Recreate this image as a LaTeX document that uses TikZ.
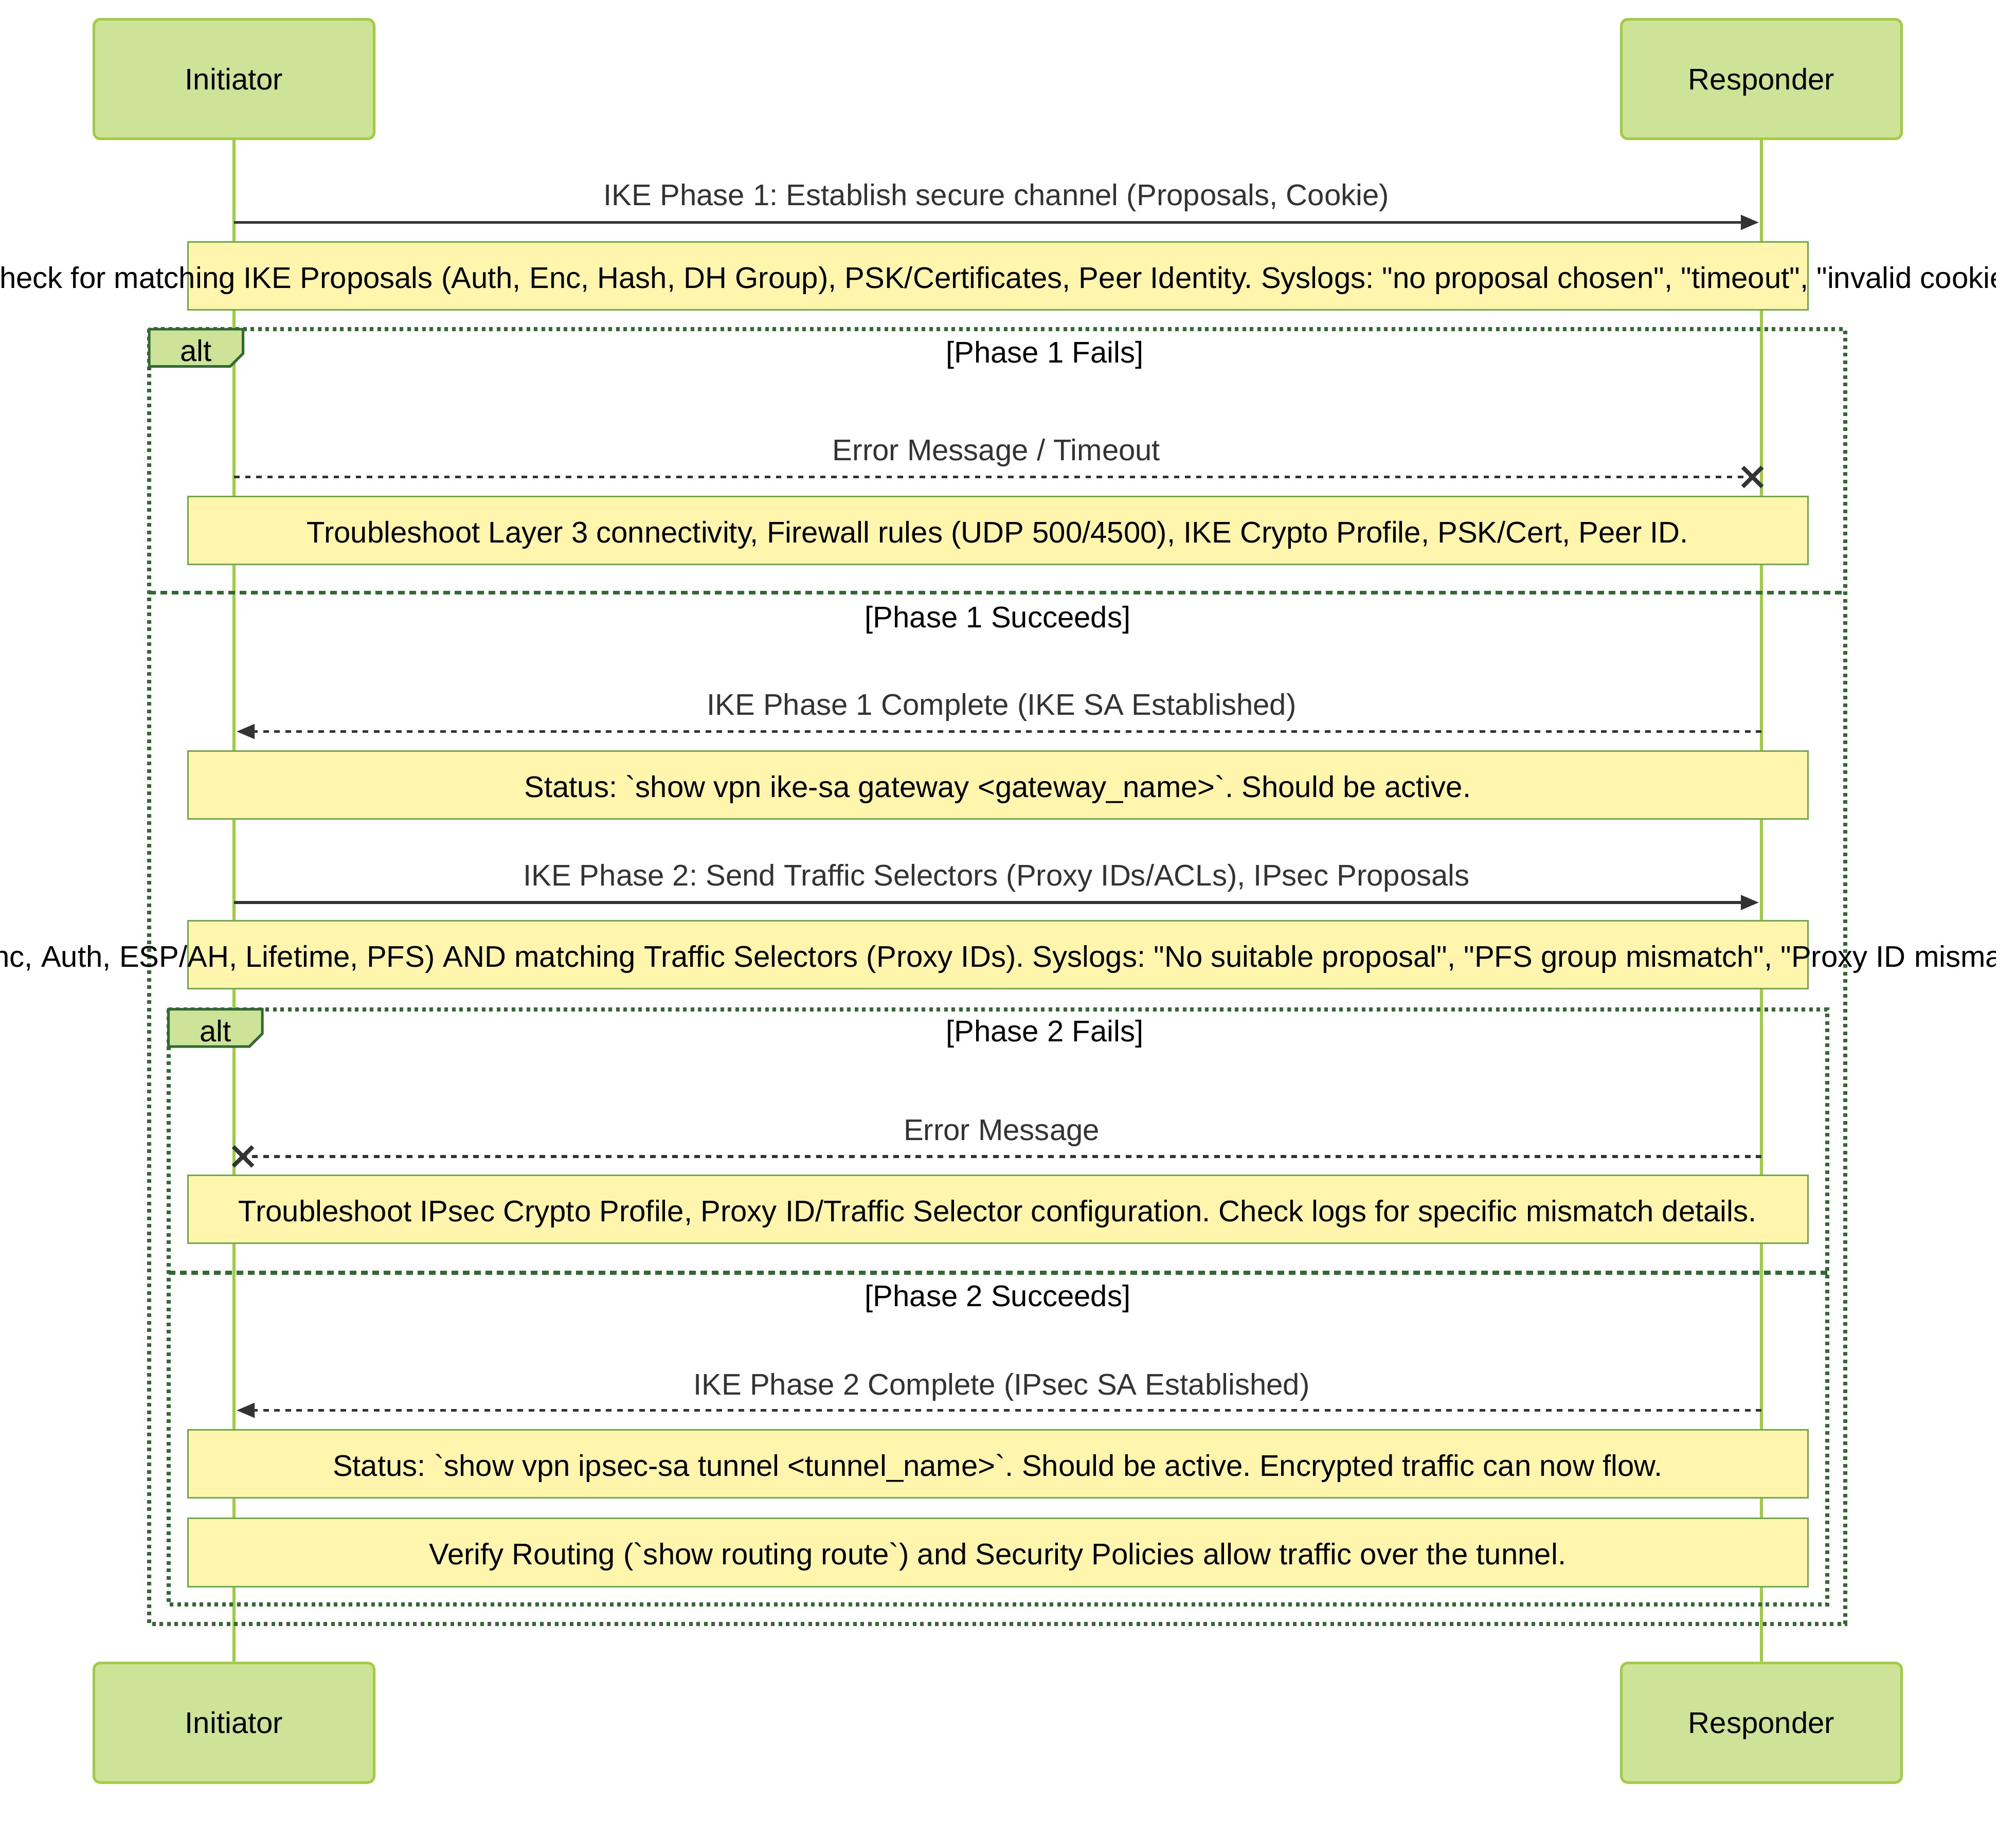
\documentclass[tikz,border=0pt]{standalone}
\usepackage{fontspec}
\setmainfont{Liberation Sans}[Ligatures=TeXOff]
\usetikzlibrary{arrows.meta,shapes.misc}
\definecolor{actorfill}{HTML}{CDE498}
\definecolor{actorline}{HTML}{A0CC44}
\definecolor{notefill}{HTML}{FFF5AD}
\definecolor{noteline}{HTML}{6EAA49}
\definecolor{framegreen}{HTML}{326932}
\definecolor{msggray}{HTML}{333333}
\newcommand{\seqfont}{\fontsize{11.62pt}{14pt}\selectfont\frenchspacing}
\tikzset{
	actor/.style={
		draw=actorline, fill=actorfill, line width=1pt,
		rounded corners=2.5pt, minimum width=109pt,
		minimum height=46.5pt, font=\seqfont, text=black,
		text height=8.3pt, text depth=0pt
	},
	notebox/.style={
		draw=noteline, fill=notefill, line width=0.6pt,
		minimum width=630pt, minimum height=26.5pt, inner sep=0pt
	},
}

\begin{document}
\begin{tikzpicture}[x=0.5pt, y=-0.5pt,
			lifeline/.style={actorline, line width=1.2pt},
			call/.style={msggray, line width=1.1pt, shorten >=1pt,
				-{Triangle[length=7pt,width=5.6pt]}},
			reply/.style={call, dash pattern=on 2.15pt off 2.15pt},
			lost/.style={msggray, line width=1.1pt, dash pattern=on 2.15pt off 2.15pt},
			crossmark/.style={cross out, draw=msggray, line width=1.6pt,
				minimum size=6pt, inner sep=0pt},
			msglabel/.style={text=msggray, font=\seqfont, anchor=base, inner sep=0pt},
			notetext/.style={text=black, font=\seqfont, anchor=base, inner sep=0pt, yshift=-4.75pt},
			condlabel/.style={text=black, font=\seqfont, anchor=base, inner sep=0pt},
			frame/.style={framegreen, line width=1.6pt, dash pattern=on 1.4pt off 1.5pt},
			divider/.style={framegreen, line width=1.5pt, dash pattern=on 2.6pt off 1.8pt},
			altbox/.style={draw=framegreen, fill=actorfill, line width=1pt}]
		\useasboundingbox (0,0) rectangle (1568,1418);
		\node[actor] (iniTop) at (182,61.5) {Initiator};
		\node[actor] (resTop) at (1370,61.5) {Responder};
		\node[actor] (iniBot) at (182,1340) {Initiator};
		\node[actor] (resBot) at (1370,1340) {Responder};
		\draw[lifeline] (iniTop) -- (iniBot);
		\draw[lifeline] (resTop) -- (resBot);
		\foreach \n/\y in {1/173, 2/371, 3/569, 4/702, 5/899.5, 6/1097} {
			\coordinate (ini\n) at (182,\y);
			\coordinate (res\n) at (1370,\y);
		}
		% alt frames
		\draw[frame] (116,256) rectangle (1435,1263);
		\draw[divider] (116,461) -- (1435,461);
		\draw[frame] (131,785) rectangle (1421,1248);
		\draw[divider] (131,990) -- (1421,990);
		% messages
		\node[crossmark] (x2) at (1363,371) {};
		\node[crossmark] (x5) at (189,899.5) {};
		\draw[call] (ini1) -- (res1);
		\draw[lost] (ini2) -- (x2.center);
		\draw[reply] (res3) -- (ini3);
		\draw[call] (ini4) -- (res4);
		\draw[lost] (res5) -- (x5.center);
		\draw[reply] (res6) -- (ini6);
		\node[msglabel] (m1) at (775,160) {IKE Phase 1: Establish secure channel (Proposals, Cookie)};
		\node[msglabel] (m2) at (775,358) {Error Message / Timeout};
		\node[msglabel] (m3) at (779,556) {IKE Phase 1 Complete (IKE SA Established)};
		\node[msglabel] (m4) at (775,689) {IKE Phase 2: Send Traffic Selectors (Proxy IDs/ACLs), IPsec Proposals};
		\node[msglabel] (m5) at (779,887) {Error Message};
		\node[msglabel] (m6) at (779,1085) {IKE Phase 2 Complete (IPsec SA Established)};
		% notes
		\node[notebox] (n1) at (776,214.5) {};
		\node[notebox] (n2) at (776,412.5) {};
		\node[notebox] (n3) at (776,610.5) {};
		\node[notebox] (n4) at (776,742.5) {};
		\node[notebox] (n5) at (776,940.5) {};
		\node[notebox] (n6) at (776,1138.5) {};
		\node[notebox] (n7) at (776,1207.5) {};
		\begin{scope}
			\clip (0,0) rectangle (1552,1418);
			\node[notetext] (t1) at (n1.center) {Check for matching IKE Proposals (Auth, Enc, Hash, DH Group), PSK/Certificates, Peer Identity. Syslogs: "no proposal chosen", "timeout", "invalid cookie"};
			\node[notetext] (t4) at ([xshift=4pt]n4.center) {(Enc, Auth, ESP/AH, Lifetime, PFS) AND matching Traffic Selectors (Proxy IDs). Syslogs: "No suitable proposal", "PFS group mismatch", "Proxy ID mismatch"};
		\end{scope}
		\node[notetext] (t2) at (n2.center) {Troubleshoot Layer 3 connectivity, Firewall rules (UDP 500/4500), IKE Crypto Profile, PSK/Cert, Peer ID.};
		\node[notetext] (t3) at (n3.center) {Status: `show vpn ike-sa gateway <gateway\_name>`. Should be active.};
		\node[notetext] (t5) at (n5.center) {Troubleshoot IPsec Crypto Profile, Proxy ID/Traffic Selector configuration. Check logs for specific mismatch details.};
		\node[notetext] (t6) at (n6.center) {Status: `show vpn ipsec-sa tunnel <tunnel\_name>`. Should be active. Encrypted traffic can now flow.};
		\node[notetext] (t7) at (n7.center) {Verify Routing (`show routing route`) and Security Policies allow traffic over the tunnel.};
		% alt labels
		\draw[altbox] (116,256) -- (189,256) -- (189,275) -- (179,285) -- (116,285) -- cycle;
		\node[condlabel] (alt1) at (152.5,281) {alt};
		\draw[altbox] (131,785) -- (204,785) -- (204,804) -- (194,814) -- (131,814) -- cycle;
		\node[condlabel] (alt2) at (167.5,810) {alt};
		\node[condlabel] (c1) at (812.5,282) {[Phase 1 Fails]};
		\node[condlabel] (c2) at (776,488) {[Phase 1 Succeeds]};
		\node[condlabel] (c3) at (812.5,810) {[Phase 2 Fails]};
		\node[condlabel] (c4) at (776,1016) {[Phase 2 Succeeds]};
	\end{tikzpicture}
\end{document}
